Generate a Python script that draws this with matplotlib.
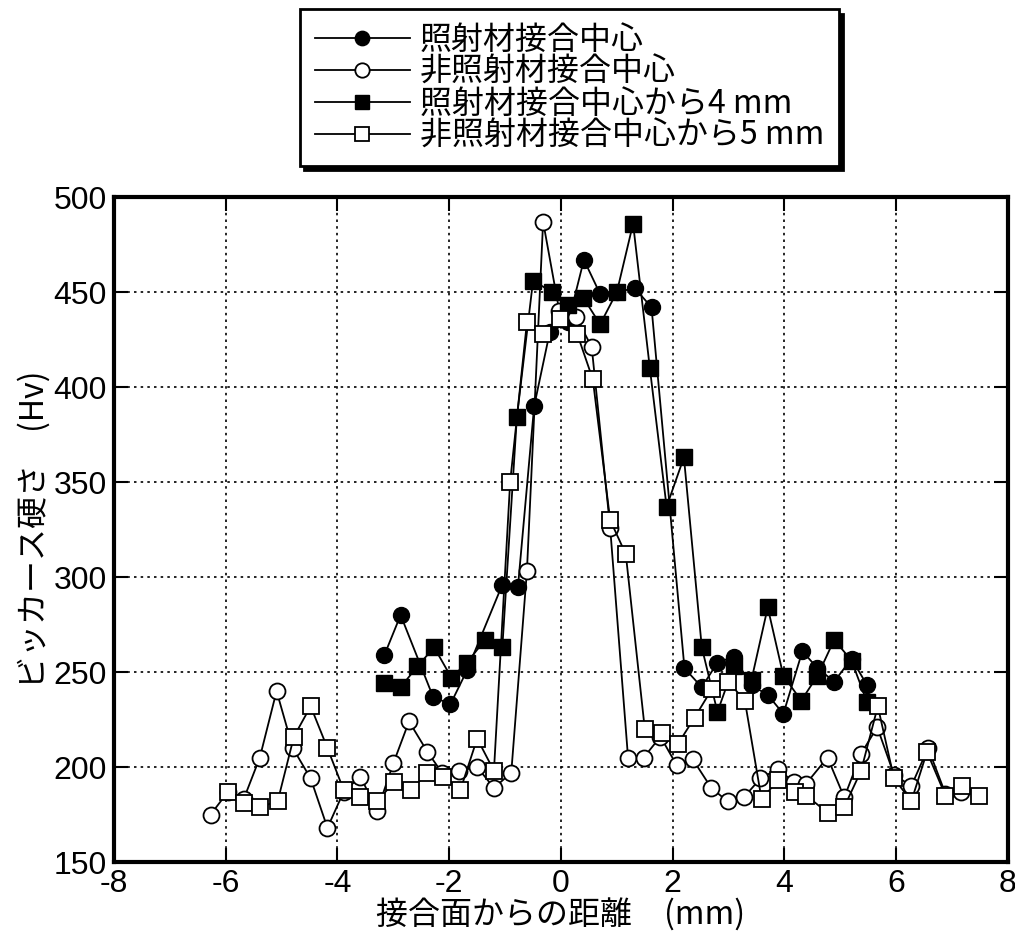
import numpy as np
import matplotlib.pyplot as plt

plt.rcParams['font.family'] = ['Noto Sans CJK JP', 'DejaVu Sans']
plt.rcParams['axes.unicode_minus'] = False

# 照射材接合中心 (filled circles)
x_irr_c = [-3.16, -2.87, -2.29, -1.98, -1.68, -1.05, -0.77, -0.48, -0.20, 0.13,
           0.41, 0.70, 1.00, 1.32, 1.62, 2.21, 2.52, 2.80, 3.09, 3.41,
           3.70, 3.98, 4.32, 4.59, 4.89, 5.20, 5.48]
y_irr_c = [259, 280, 237, 233, 251, 296, 295, 390, 429, 434,
           467, 449, 450, 452, 442, 252, 242, 255, 258, 243,
           238, 228, 261, 252, 245, 257, 243]

# 非照射材接合中心 (open circles)
x_non_c = [-6.27, -5.96, -5.68, -5.39, -5.09, -4.80, -4.48, -4.18, -3.89, -3.59,
           -3.29, -3.00, -2.72, -2.39, -2.13, -1.82, -1.50, -1.20, -0.89, -0.61,
           -0.32, -0.03, 0.27, 0.55, 0.88, 1.20, 1.48, 1.78, 2.07, 2.36,
           2.69, 2.98, 3.27, 3.57, 3.88, 4.17, 4.38, 4.77, 5.07, 5.37,
           5.66, 5.96, 6.27, 6.57, 6.88, 7.16]
y_non_c = [175, 187, 183, 205, 240, 210, 194, 168, 187, 195,
           177, 202, 224, 208, 197, 198, 200, 189, 197, 303,
           487, 440, 437, 421, 326, 205, 205, 216, 201, 204,
           189, 182, 184, 194, 199, 192, 191, 205, 184, 207,
           221, 196, 190, 210, 186, 187]

# 照射材接合中心から4 mm (filled squares)
x_irr_4 = [-3.16, -2.87, -2.57, -2.27, -1.96, -1.68, -1.36, -1.05, -0.79, -0.50,
           -0.16, 0.13, 0.40, 0.70, 1.00, 1.29, 1.59, 1.89, 2.20, 2.52,
           2.80, 3.09, 3.41, 3.70, 3.98, 4.30, 4.59, 4.89, 5.20, 5.48]
y_irr_4 = [244, 242, 253, 263, 247, 255, 267, 263, 384, 456,
           450, 443, 447, 433, 450, 486, 410, 337, 363, 263,
           229, 253, 246, 284, 248, 235, 248, 267, 256, 234]

# 非照射材接合中心から5 mm (open squares)
x_non_5 = [-5.96, -5.68, -5.38, -5.07, -4.78, -4.48, -4.18, -3.89, -3.59, -3.29,
           -2.99, -2.68, -2.39, -2.11, -1.80, -1.50, -1.20, -0.91, -0.61, -0.32,
           -0.02, 0.29, 0.57, 0.88, 1.16, 1.50, 1.80, 2.09, 2.39, 2.70,
           2.99, 3.29, 3.59, 3.88, 4.18, 4.39, 4.77, 5.07, 5.37, 5.67,
           5.96, 6.27, 6.55, 6.88, 7.18, 7.48]
y_non_5 = [187, 181, 179, 182, 216, 232, 210, 188, 184, 182,
           192, 188, 197, 195, 188, 215, 198, 350, 434, 428,
           436, 428, 404, 330, 312, 220, 218, 212, 226, 241,
           245, 235, 183, 193, 187, 185, 176, 179, 198, 232,
           194, 182, 208, 185, 190, 185]

labels = ['照射材接合中心', '非照射材接合中心',
          '照射材接合中心から4 mm', '非照射材接合中心から5 mm']

fig = plt.figure(figsize=(10.15, 9.41), dpi=100)
ax = fig.add_axes([0.1123, 0.0839, 0.8808, 0.7067])

ms = 11.5
ax.plot(x_irr_c, y_irr_c, '-o', color='black', lw=1.3, ms=ms,
        mfc='black', mec='black', label=labels[0])
ax.plot(x_non_c, y_non_c, '-o', color='black', lw=1.3, ms=ms,
        mfc='white', mec='black', mew=1.3, label=labels[1])
ax.plot(x_irr_4, y_irr_4, '-s', color='black', lw=1.3, ms=ms,
        mfc='black', mec='black', label=labels[2])
ax.plot(x_non_5, y_non_5, '-s', color='black', lw=1.3, ms=ms,
        mfc='white', mec='black', mew=1.3, label=labels[3])

ax.set_xlim(-8, 8)
ax.set_ylim(150, 500)
ax.set_xticks(np.arange(-8, 9, 2))
ax.set_yticks(np.arange(150, 501, 50))
ax.grid(True, color='black', linestyle=(0, (1.5, 2.5)), linewidth=1.2)
for s in ax.spines.values():
    s.set_linewidth(3)
ax.tick_params(direction='in', length=10, width=1.5, top=True, right=True,
               labelsize=23, pad=5)
for t in ax.get_xticklabels() + ax.get_yticklabels():
    t.set_family(['Liberation Sans', 'DejaVu Sans'])

ax.set_xlabel('接合面からの距離　(mm)', fontsize=23, labelpad=0)
ax.set_ylabel('ビッカース硬さ　(Hv)', fontsize=23, labelpad=2)

leg = fig.legend(loc='upper center', bbox_to_anchor=(0.561, 1.007),
                 fontsize=23, frameon=True, fancybox=False,
                 shadow={'color': 'black', 'alpha': 1, 'ox': 3, 'oy': -3},
                 handlelength=3.0, handletextpad=0.3, labelspacing=0.0,
                 borderpad=0.45, markerscale=0.9)
leg.get_frame().set_edgecolor('black')
leg.get_frame().set_linewidth(2)

plt.savefig('out.png', dpi=100)
